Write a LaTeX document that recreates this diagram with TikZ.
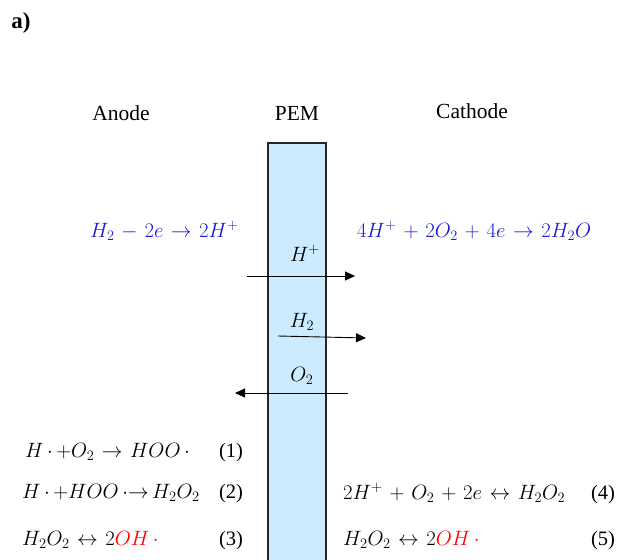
\documentclass[tikz,border=0pt]{standalone}
\usepackage{fontspec}
\setmainfont{Liberation Serif}
\usetikzlibrary{arrows.meta,positioning}
\definecolor{membrane}{HTML}{CCEBFF}
\definecolor{eqblue}{HTML}{1C1CD2}
\definecolor{radred}{HTML}{FF0000}
\definecolor{edge}{HTML}{262626}
\tikzset{lbl/.style={font=\fontsize{21.5}{24}\selectfont,inner sep=0pt,anchor=base}, eq/.style={lbl,font=\fontsize{20.5}{24}\selectfont,anchor=base west}, blueeq/.style={eq,text=eqblue}, num/.style={lbl,font=\fontsize{20.5}{24}\selectfont}, flux/.style={-{Triangle[length=10pt,width=9pt]},line width=0.9pt}, pemstrip/.style={draw=edge,fill=membrane,line width=1.6pt}}
\newcommand{\rdot}{\,{\cdot}\,}
\medmuskip=6mu plus 2mu minus 4mu
\thickmuskip=6.5mu plus 5mu

\begin{document}
\begin{tikzpicture}[x=1pt,y=-1pt]
\useasboundingbox (0,0) rectangle (620,559);
\filldraw[pemstrip] (268,143) rectangle (326,566);
\node[lbl,font=\fontsize{23}{26}\selectfont\bfseries] (panel) at (21,29) {a)};
\node[lbl] (anode) at (121,120) {Anode};
\node[lbl] (pem) at (297,120) {PEM};
\node[lbl] (cathode) at (472,118) {Cathode};
\node[blueeq] (anodeeq) at (90,237) {$H_2 - 2e \rightarrow 2H^+$};
\node[blueeq] (cathodeeq) at (357,237) {$4H^+ + 2O_2 + 4e \rightarrow 2H_2O$};
% species crossing the membrane
\node[lbl] (hplus) at (305,261) {$H^+$};
\node[lbl] (hydro) at (302,327) {$H_2$};
\node[lbl] (oxy) at (302,381) {$O_2$};
\coordinate (hp0) at (247,276);\coordinate (hp1) at (355,276);
\coordinate (h20) at (278,336);\coordinate (h21) at (366,338);
\coordinate (o20) at (348,393);\coordinate (o21) at (235,393);
\draw[flux] (hp0)--(hp1);\draw[flux] (h20)--(h21);\draw[flux] (o20)--(o21);
% side reactions
\node[eq] (r1) at (25,457) {$H\rdot{+}O_2 \rightarrow HOO\rdot$};
\node[eq] (r2) at (22,498) {$H\rdot{+}HOO\,{\cdot}{\rightarrow}\,H_2O_2$};
\node[eq] (r3) at (22,545) {$H_2O_2 \leftrightarrow 2\textcolor{radred}{OH\rdot}$};
\node[eq] (r4) at (343,499) {$2H^+ + O_2 + 2e \leftrightarrow H_2O_2$};
\node[eq] (r5) at (343,545) {$H_2O_2 \leftrightarrow 2\textcolor{radred}{OH\rdot}$};
\node[num] (n1) at (231,457) {(1)};
\node[num] (n2) at (231,498) {(2)};
\node[num] (n3) at (231,545) {(3)};
\node[num] (n4) at (603,499) {(4)};
\node[num] (n5) at (603,545) {(5)};
\end{tikzpicture}
\end{document}
